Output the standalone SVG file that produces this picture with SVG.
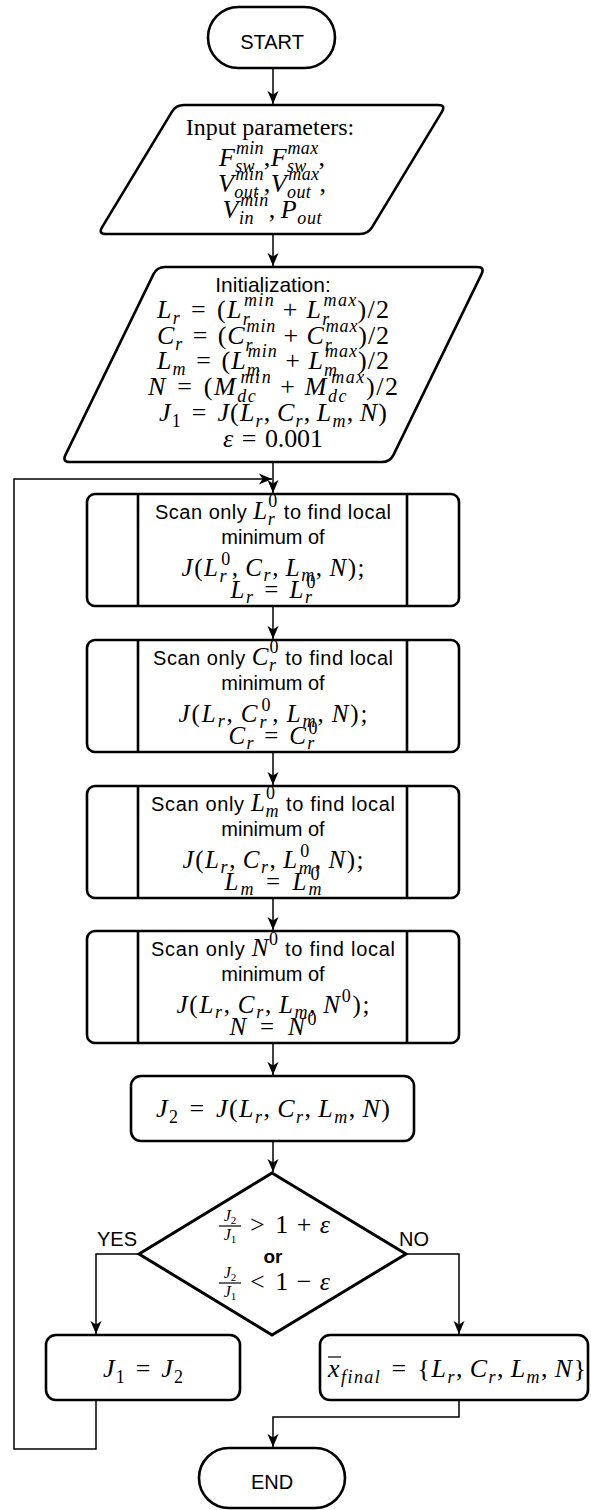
<svg xmlns="http://www.w3.org/2000/svg" width="591" height="1510" viewBox="0 0 591 1510">
<defs>
<style>
.t{font-family:"Liberation Sans",Arial,sans-serif;font-size:20px;fill:#000}
.m{font-family:"Liberation Serif","Times New Roman",serif;font-size:26px;fill:#000}
.m25{font-size:25px}
.mi{font-style:italic}
.s{font-size:18px}
.node{fill:#fff;stroke:#000;stroke-width:2.6}
.div{stroke:#000;stroke-width:2.6}
.conn{fill:none;stroke:#000;stroke-width:1.5}
</style>
<marker id="ah" markerUnits="userSpaceOnUse" markerWidth="14" markerHeight="12" refX="13" refY="6" orient="auto" overflow="visible">
<path d="M0,0.5 L13,6 L0,11.5 L3.5,6 Z" fill="#000"/>
</marker>
</defs>
<rect width="591" height="1510" fill="#fff"/>

<g id="start">
<rect class="node" x="208" y="7" width="127" height="61" rx="30.5"/>
<text class="t" x="272" y="49" text-anchor="middle">START</text>
</g>

<g id="input">
<path class="node" d="M184,105 L438,105 Q446,105 441.86,111.85 L372.14,227.15 Q368,234 360,234 L106,234 Q98,234 102.14,227.15 L171.86,111.85 Q176,105 184,105 Z"/>
<text class="m" x="270" y="135" text-anchor="middle" font-size="24" style="font-size:24px">Input parameters:</text>
<text class="m" x="272" y="166" text-anchor="middle" textLength="106" lengthAdjust="spacing"><tspan class="mi">F</tspan><tspan class="mi s" dy="6">sw</tspan><tspan class="mi s" dx="-19" dy="-18">min</tspan><tspan dy="12">,</tspan><tspan class="mi">F</tspan><tspan class="mi s" dy="6">sw</tspan><tspan class="mi s" dx="-19" dy="-18">max</tspan><tspan dy="12">,</tspan></text>
<text class="m" x="272" y="192" text-anchor="middle" textLength="108" lengthAdjust="spacing"><tspan class="mi">V</tspan><tspan class="mi s" dy="6">out</tspan><tspan class="mi s" dx="-23" dy="-18">min</tspan><tspan dy="12">,</tspan><tspan class="mi">V</tspan><tspan class="mi s" dy="6">out</tspan><tspan class="mi s" dx="-23" dy="-18">max</tspan><tspan dy="12">,</tspan></text>
<text class="m" x="272" y="218" text-anchor="middle" textLength="99" lengthAdjust="spacing"><tspan class="mi">V</tspan><tspan class="mi s" dy="6">in</tspan><tspan class="mi s" dx="-14" dy="-18">min</tspan><tspan dy="12">,&#8198;</tspan><tspan class="mi">P</tspan><tspan class="mi s" dy="6">out</tspan></text>
</g>

<g id="init">
<path class="node" d="M165,267 L477,267 Q485,267 481.5,274.19 L393.5,454.81 Q390,462 382,462 L70,462 Q62,462 65.5,454.81 L153.5,274.19 Q157,267 165,267 Z"/>
<text class="t" x="273" y="292" text-anchor="middle" font-size="21" style="font-size:21px">Initialization:</text>
<text class="m" x="273" y="318" text-anchor="middle" textLength="232" lengthAdjust="spacing"><tspan class="mi">L</tspan><tspan class="mi s" dy="6">r</tspan><tspan dy="-6">&#8196;=&#8196;(</tspan><tspan class="mi">L</tspan><tspan class="mi s" dy="7">r</tspan><tspan class="mi s" dx="-7" dy="-19">min</tspan><tspan dy="12">&#8197;+&#8197;</tspan><tspan class="mi">L</tspan><tspan class="mi s" dy="7">r</tspan><tspan class="mi s" dx="-7" dy="-19">max</tspan><tspan dy="12">)/2</tspan></text>
<text class="m" x="273" y="344" text-anchor="middle" textLength="232" lengthAdjust="spacing"><tspan class="mi">C</tspan><tspan class="mi s" dy="6">r</tspan><tspan dy="-6">&#8196;=&#8196;(</tspan><tspan class="mi">C</tspan><tspan class="mi s" dy="7">r</tspan><tspan class="mi s" dx="-7" dy="-19">min</tspan><tspan dy="12">&#8197;+&#8197;</tspan><tspan class="mi">C</tspan><tspan class="mi s" dy="7">r</tspan><tspan class="mi s" dx="-7" dy="-19">max</tspan><tspan dy="12">)/2</tspan></text>
<text class="m" x="273" y="369" text-anchor="middle" textLength="232" lengthAdjust="spacing"><tspan class="mi">L</tspan><tspan class="mi s" dy="6">m</tspan><tspan dy="-6">&#8196;=&#8196;(</tspan><tspan class="mi">L</tspan><tspan class="mi s" dy="7">m</tspan><tspan class="mi s" dx="-13" dy="-19">min</tspan><tspan dy="12">&#8197;+&#8197;</tspan><tspan class="mi">L</tspan><tspan class="mi s" dy="7">m</tspan><tspan class="mi s" dx="-13" dy="-19">max</tspan><tspan dy="12">)/2</tspan></text>
<text class="m" x="273" y="395" text-anchor="middle" textLength="250" lengthAdjust="spacing"><tspan class="mi">N</tspan>&#8196;=&#8196;(<tspan class="mi">M</tspan><tspan class="mi s" dy="7">dc</tspan><tspan class="mi s" dx="-17" dy="-19">min</tspan><tspan dy="12">&#8197;+&#8197;</tspan><tspan class="mi">M</tspan><tspan class="mi s" dy="7">dc</tspan><tspan class="mi s" dx="-17" dy="-19">max</tspan><tspan dy="12">)/2</tspan></text>
<text class="m" x="273" y="421" text-anchor="middle" textLength="228" lengthAdjust="spacing"><tspan class="mi">J</tspan><tspan class="s" dy="6">1</tspan><tspan dy="-6">&#8196;=&#8196;</tspan><tspan class="mi">J</tspan>(<tspan class="mi">L</tspan><tspan class="mi s" dy="6">r</tspan><tspan dy="-6">,&#8198;</tspan><tspan class="mi">C</tspan><tspan class="mi s" dy="6">r</tspan><tspan dy="-6">,&#8198;</tspan><tspan class="mi">L</tspan><tspan class="mi s" dy="6">m</tspan><tspan dy="-6">,&#8198;</tspan><tspan class="mi">N</tspan>)</text>
<text class="m" x="273" y="447" text-anchor="middle" textLength="100" lengthAdjust="spacing"><tspan class="mi">ε</tspan>&#8196;=&#8196;0.001</text>
</g>

<g id="scan-lr">
<rect class="node" x="87" y="494" width="372" height="112" rx="8"/>
<line class="div" x1="138" y1="494" x2="138" y2="606"/>
<line class="div" x1="407" y1="494" x2="407" y2="606"/>
<text class="t" x="273" y="519" text-anchor="middle" textLength="236" lengthAdjust="spacing">Scan only <tspan class="m m25 mi">L</tspan><tspan class="m mi s" dy="6">r</tspan><tspan class="m s" dx="-7" dy="-18">0</tspan><tspan dy="12"> to find local</tspan></text>
<text class="t" x="273" y="544" text-anchor="middle">minimum of</text>
<text class="m m25" x="273" y="576" text-anchor="middle" textLength="183" lengthAdjust="spacing"><tspan class="mi">J</tspan>(<tspan class="mi">L</tspan><tspan class="mi s" dy="6">r</tspan><tspan class="s" dx="-7" dy="-17">0</tspan><tspan dy="11">,&#8198;</tspan><tspan class="mi">C</tspan><tspan class="mi s" dy="5">r</tspan><tspan dy="-5">,&#8198;</tspan><tspan class="mi">L</tspan><tspan class="mi s" dy="5">m</tspan><tspan dy="-5">,&#8198;</tspan><tspan class="mi">N</tspan>);</text>
<text class="m m25" x="273" y="598" text-anchor="middle" textLength="85" lengthAdjust="spacing"><tspan class="mi">L</tspan><tspan class="mi s" dy="5">r</tspan><tspan dy="-5">&#8196;=&#8196;</tspan><tspan class="mi">L</tspan><tspan class="mi s" dy="5">r</tspan><tspan class="s" dx="-7" dy="-15">0</tspan></text>
</g>

<g id="scan-cr">
<rect class="node" x="87" y="640" width="372" height="112" rx="8"/>
<line class="div" x1="138" y1="640" x2="138" y2="752"/>
<line class="div" x1="407" y1="640" x2="407" y2="752"/>
<text class="t" x="273" y="665" text-anchor="middle" textLength="240" lengthAdjust="spacing">Scan only <tspan class="m m25 mi">C</tspan><tspan class="m mi s" dy="6">r</tspan><tspan class="m s" dx="-7" dy="-18">0</tspan><tspan dy="12"> to find local</tspan></text>
<text class="t" x="273" y="690" text-anchor="middle">minimum of</text>
<text class="m m25" x="273" y="722" text-anchor="middle" textLength="189" lengthAdjust="spacing"><tspan class="mi">J</tspan>(<tspan class="mi">L</tspan><tspan class="mi s" dy="5">r</tspan><tspan dy="-5">,&#8198;</tspan><tspan class="mi">C</tspan><tspan class="mi s" dy="6">r</tspan><tspan class="s" dx="-7" dy="-17">0</tspan><tspan dy="11">,&#8198;</tspan><tspan class="mi">L</tspan><tspan class="mi s" dy="5">m</tspan><tspan dy="-5">,&#8198;</tspan><tspan class="mi">N</tspan>);</text>
<text class="m m25" x="273" y="744" text-anchor="middle" textLength="89" lengthAdjust="spacing"><tspan class="mi">C</tspan><tspan class="mi s" dy="5">r</tspan><tspan dy="-5">&#8196;=&#8196;</tspan><tspan class="mi">C</tspan><tspan class="mi s" dy="5">r</tspan><tspan class="s" dx="-7" dy="-15">0</tspan></text>
</g>

<g id="scan-lm">
<rect class="node" x="87" y="786" width="372" height="112" rx="8"/>
<line class="div" x1="138" y1="786" x2="138" y2="898"/>
<line class="div" x1="407" y1="786" x2="407" y2="898"/>
<text class="t" x="273" y="811" text-anchor="middle" textLength="244" lengthAdjust="spacing">Scan only <tspan class="m m25 mi">L</tspan><tspan class="m mi s" dy="6">m</tspan><tspan class="m s" dx="-13" dy="-18">0</tspan><tspan dx="4" dy="12"> to find local</tspan></text>
<text class="t" x="273" y="836" text-anchor="middle">minimum of</text>
<text class="m m25" x="273" y="868" text-anchor="middle" textLength="181" lengthAdjust="spacing"><tspan class="mi">J</tspan>(<tspan class="mi">L</tspan><tspan class="mi s" dy="5">r</tspan><tspan dy="-5">,&#8198;</tspan><tspan class="mi">C</tspan><tspan class="mi s" dy="5">r</tspan><tspan dy="-5">,&#8198;</tspan><tspan class="mi">L</tspan><tspan class="mi s" dy="6">m</tspan><tspan class="s" dx="-13" dy="-17">0</tspan><tspan dx="4" dy="11">,&#8198;</tspan><tspan class="mi">N</tspan>);</text>
<text class="m m25" x="273" y="890" text-anchor="middle" textLength="99" lengthAdjust="spacing"><tspan class="mi">L</tspan><tspan class="mi s" dy="5">m</tspan><tspan dy="-5">&#8196;=&#8196;</tspan><tspan class="mi">L</tspan><tspan class="mi s" dy="5">m</tspan><tspan class="s" dx="-13" dy="-15">0</tspan></text>
</g>

<g id="scan-n">
<rect class="node" x="87" y="931" width="372" height="112" rx="8"/>
<line class="div" x1="138" y1="931" x2="138" y2="1043"/>
<line class="div" x1="407" y1="931" x2="407" y2="1043"/>
<text class="t" x="273" y="956" text-anchor="middle" textLength="244" lengthAdjust="spacing">Scan only <tspan class="m m25 mi">N</tspan><tspan class="m s" dy="-11">0</tspan><tspan dy="11"> to find local</tspan></text>
<text class="t" x="273" y="981" text-anchor="middle">minimum of</text>
<text class="m m25" x="273" y="1013" text-anchor="middle" textLength="193" lengthAdjust="spacing"><tspan class="mi">J</tspan>(<tspan class="mi">L</tspan><tspan class="mi s" dy="5">r</tspan><tspan dy="-5">,&#8198;</tspan><tspan class="mi">C</tspan><tspan class="mi s" dy="5">r</tspan><tspan dy="-5">,&#8198;</tspan><tspan class="mi">L</tspan><tspan class="mi s" dy="5">m</tspan><tspan dy="-5">,&#8198;</tspan><tspan class="mi">N</tspan><tspan class="s" dy="-11">0</tspan><tspan dy="11">);</tspan></text>
<text class="m m25" x="273" y="1035" text-anchor="middle" textLength="87" lengthAdjust="spacing"><tspan class="mi">N</tspan>&#8196;=&#8196;<tspan class="mi">N</tspan><tspan class="s" dy="-10">0</tspan></text>
</g>

<g id="calc-j2">
<rect class="node" x="131" y="1076" width="283" height="65" rx="10"/>
<text class="m" x="273" y="1117" text-anchor="middle" textLength="234" lengthAdjust="spacing"><tspan class="mi">J</tspan><tspan class="s" dy="6">2</tspan><tspan dy="-6">&#8196;=&#8196;</tspan><tspan class="mi">J</tspan>(<tspan class="mi">L</tspan><tspan class="mi s" dy="6">r</tspan><tspan dy="-6">,&#8198;</tspan><tspan class="mi">C</tspan><tspan class="mi s" dy="6">r</tspan><tspan dy="-6">,&#8198;</tspan><tspan class="mi">L</tspan><tspan class="mi s" dy="6">m</tspan><tspan dy="-6">,&#8198;</tspan><tspan class="mi">N</tspan>)</text>
</g>

<g id="decision">
<polygon class="node" stroke-width="3" style="stroke-width:3" points="272,1173 406,1254 272,1335 139,1254"/>
<text class="m" x="230" y="1221" text-anchor="middle" style="font-size:16px"><tspan class="mi">J</tspan><tspan style="font-size:11px" dy="3">2</tspan></text>
<line x1="219" y1="1226" x2="241" y2="1226" stroke="#000" stroke-width="1.2"/>
<text class="m" x="230" y="1240" text-anchor="middle" style="font-size:16px"><tspan class="mi">J</tspan><tspan style="font-size:11px" dy="3">1</tspan></text>
<text class="m" x="250" y="1233" textLength="80" lengthAdjust="spacing">&gt;&#8196;1&#8197;+&#8197;<tspan class="mi">ε</tspan></text>
<text class="t" x="273" y="1263" text-anchor="middle" font-weight="bold" style="font-size:19px">or</text>
<text class="m" x="230" y="1278" text-anchor="middle" style="font-size:16px"><tspan class="mi">J</tspan><tspan style="font-size:11px" dy="3">2</tspan></text>
<line x1="219" y1="1283" x2="241" y2="1283" stroke="#000" stroke-width="1.2"/>
<text class="m" x="230" y="1297" text-anchor="middle" style="font-size:16px"><tspan class="mi">J</tspan><tspan style="font-size:11px" dy="3">1</tspan></text>
<text class="m" x="250" y="1290" textLength="80" lengthAdjust="spacing">&lt;&#8196;1&#8197;−&#8197;<tspan class="mi">ε</tspan></text>
</g>

<g id="update-j1">
<rect class="node" x="46" y="1335" width="194" height="65" rx="10"/>
<text class="m" x="143" y="1377" text-anchor="middle" textLength="80" lengthAdjust="spacing"><tspan class="mi">J</tspan><tspan class="s" dy="6">1</tspan><tspan dy="-6">&#8196;=&#8196;</tspan><tspan class="mi">J</tspan><tspan class="s" dy="6">2</tspan></text>
</g>

<g id="result">
<rect class="node" x="320" y="1335" width="268" height="65" rx="10"/>
<line x1="328" y1="1357" x2="341" y2="1357" stroke="#000" stroke-width="1.2"/>
<text class="m" x="457" y="1377" text-anchor="middle" textLength="258" lengthAdjust="spacing"><tspan class="mi">x</tspan><tspan class="mi s" dy="6">final</tspan><tspan dy="-6">&#8196;=&#8196;{</tspan><tspan class="mi">L</tspan><tspan class="mi s" dy="6">r</tspan><tspan dy="-6">,&#8198;</tspan><tspan class="mi">C</tspan><tspan class="mi s" dy="6">r</tspan><tspan dy="-6">,&#8198;</tspan><tspan class="mi">L</tspan><tspan class="mi s" dy="6">m</tspan><tspan dy="-6">,&#8198;</tspan><tspan class="mi">N</tspan>}</text>
</g>

<g id="end">
<rect class="node" x="199" y="1448" width="146" height="60" rx="30"/>
<text class="t" x="272" y="1489" text-anchor="middle">END</text>
</g>

<g id="connectors">
<path class="conn" d="M273,68.5 V104" marker-end="url(#ah)"/>
<path class="conn" d="M273,234 V266" marker-end="url(#ah)"/>
<path class="conn" d="M273,462 V493" marker-end="url(#ah)"/>
<path class="conn" d="M96,1400 V1449 H14 V479 H272" marker-end="url(#ah)"/>
<path class="conn" d="M273,606 V639" marker-end="url(#ah)"/>
<path class="conn" d="M273,752 V785" marker-end="url(#ah)"/>
<path class="conn" d="M273,898 V930" marker-end="url(#ah)"/>
<path class="conn" d="M273,1043 V1075" marker-end="url(#ah)"/>
<path class="conn" d="M273,1141 V1172" marker-end="url(#ah)"/>
<path class="conn" d="M139,1254 H96 V1334" marker-end="url(#ah)"/>
<path class="conn" d="M406,1254 H459 V1334" marker-end="url(#ah)"/>
<path class="conn" d="M459,1400 V1417 H273 V1447" marker-end="url(#ah)"/>
<text class="t" x="117" y="1246" text-anchor="middle">YES</text>
<text class="t" x="414" y="1246" text-anchor="middle">NO</text>
</g>
</svg>
